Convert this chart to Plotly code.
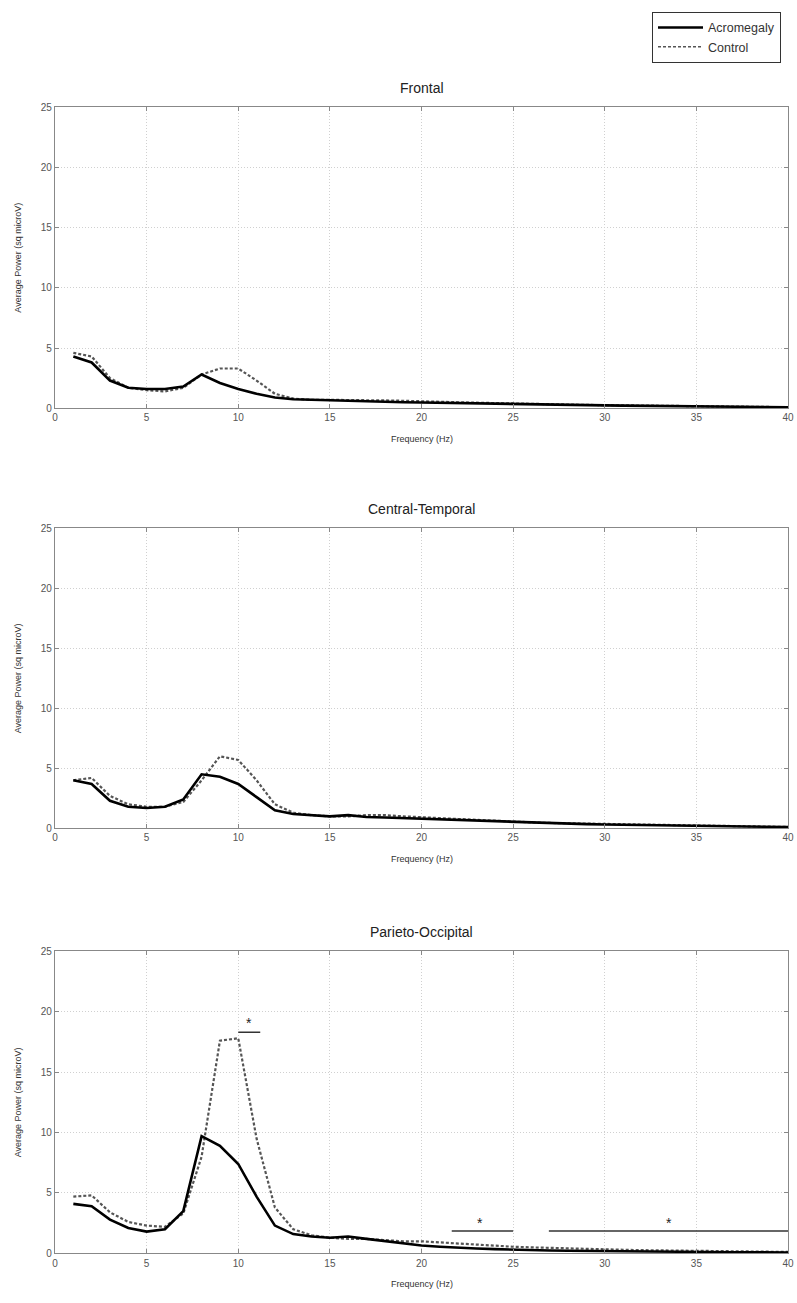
import plotly.graph_objects as go

freq = list(range(1, 41))

frontal_acro = [4.3, 3.8, 2.3, 1.7, 1.6, 1.6, 1.8, 2.8, 2.1, 1.6, 1.2, 0.9, 0.75, 0.7, 0.7, 0.65,
                0.6, 0.55, 0.5, 0.48, 0.45, 0.42, 0.4, 0.37, 0.35, 0.32, 0.3, 0.28, 0.26, 0.24,
                0.22, 0.2, 0.18, 0.16, 0.15, 0.13, 0.12, 0.1, 0.09, 0.08]
frontal_ctrl = [4.6, 4.3, 2.5, 1.7, 1.5, 1.4, 1.7, 2.8, 3.3, 3.3, 2.3, 1.2, 0.8, 0.7, 0.7, 0.7,
                0.68, 0.65, 0.62, 0.6, 0.55, 0.5, 0.46, 0.42, 0.38, 0.35, 0.32, 0.3, 0.28, 0.26,
                0.24, 0.22, 0.2, 0.18, 0.16, 0.14, 0.12, 0.11, 0.1, 0.09]

central_acro = [4.0, 3.7, 2.3, 1.8, 1.7, 1.8, 2.4, 4.5, 4.3, 3.7, 2.6, 1.5, 1.2, 1.1, 1.0, 1.1,
                0.95, 0.9, 0.85, 0.8, 0.72, 0.65, 0.6, 0.55, 0.5, 0.45, 0.42, 0.38, 0.35, 0.32,
                0.3, 0.28, 0.25, 0.23, 0.2, 0.18, 0.16, 0.14, 0.12, 0.1]
central_ctrl = [4.0, 4.2, 2.7, 2.0, 1.8, 1.8, 2.2, 4.0, 6.0, 5.7, 4.0, 2.0, 1.3, 1.1, 1.0, 1.0,
                1.1, 1.1, 1.0, 0.95, 0.85, 0.78, 0.7, 0.62, 0.55, 0.5, 0.45, 0.42, 0.38, 0.35,
                0.32, 0.3, 0.27, 0.24, 0.22, 0.2, 0.18, 0.16, 0.14, 0.12]

parieto_acro = [4.1, 3.9, 2.8, 2.1, 1.8, 2.0, 3.5, 9.7, 8.9, 7.4, 4.7, 2.3, 1.6, 1.4, 1.3, 1.4,
                1.2, 1.0, 0.8, 0.65, 0.55, 0.45, 0.4, 0.35, 0.3, 0.27, 0.24, 0.22, 0.2, 0.18,
                0.16, 0.15, 0.14, 0.13, 0.12, 0.11, 0.1, 0.09, 0.08, 0.07]
parieto_ctrl = [4.7, 4.8, 3.4, 2.6, 2.3, 2.2, 3.3, 8.0, 17.6, 17.8, 9.5, 3.8, 2.0, 1.5, 1.3, 1.2,
                1.2, 1.1, 1.0, 1.0, 0.9, 0.8, 0.7, 0.6, 0.55, 0.5, 0.45, 0.4, 0.36, 0.33,
                0.3, 0.27, 0.25, 0.23, 0.21, 0.19, 0.17, 0.15, 0.13, 0.12]

titles = ["Frontal", "Central-Temporal", "Parieto-Occipital"]
series_names = ["Acromegaly", "Control"]
x_ticks = [0, 5, 10, 15, 20, 25, 30, 35, 40]
y_ticks = [0, 5, 10, 15, 20, 25]

# significance bars (bottom panel): x0, x1, y, star x, star y
sig_x0 = [10.0, 21.65, 26.95]
sig_x1 = [11.2, 25.0, 40.0]
sig_y = [18.3, 1.85, 1.85]
star_x = [10.6, 23.2, 33.5]
star_y = [19.1, 2.5, 2.5]

H = 1303
panels_px = [(102, 406), (527, 830), (954, 1259)]
domains = [[1 - b / H, 1 - t / H] for t, b in panels_px]

data = [(frontal_acro, frontal_ctrl), (central_acro, central_ctrl), (parieto_acro, parieto_ctrl)]

FONT = "Liberation Sans, Arial, sans-serif"
fig = go.Figure()

for i, (acro, ctrl) in enumerate(data):
    xa = "x" if i == 0 else f"x{i+1}"
    ya = "y" if i == 0 else f"y{i+1}"
    fig.add_trace(go.Scatter(x=freq, y=ctrl, mode="lines", name=series_names[1],
                             line=dict(color="#555555", width=2.2, dash="3px,2px"),
                             xaxis=xa, yaxis=ya, showlegend=False))
    fig.add_trace(go.Scatter(x=freq, y=acro, mode="lines", name=series_names[0],
                             line=dict(color="black", width=2.6),
                             xaxis=xa, yaxis=ya, showlegend=(i == 0), legendrank=1))
    if i == 0:
        fig.add_trace(go.Scatter(x=[None], y=[None], mode="lines", name=series_names[1],
                                 line=dict(color="#555555", width=1.6, dash="3px,2px"),
                                 xaxis=xa, yaxis=ya, showlegend=True, legendrank=2))

axis_common = dict(showline=True, linecolor="#888888", linewidth=1.2, mirror="ticks",
                   ticks="inside", ticklen=4, tickcolor="#888888",
                   showgrid=True, gridcolor="#d0d0d0", griddash="1px,2px", gridwidth=1,
                   zeroline=False, tickfont=dict(family=FONT, size=10, color="#555555"))

layout = dict(width=797, height=1303, paper_bgcolor="white", plot_bgcolor="white",
              margin=dict(l=55, r=9, t=0, b=0),
              font=dict(family=FONT, color="#222222"))

for i in range(3):
    xk = "xaxis" if i == 0 else f"xaxis{i+1}"
    yk = "yaxis" if i == 0 else f"yaxis{i+1}"
    ya = "y" if i == 0 else f"y{i+1}"
    xa = "x" if i == 0 else f"x{i+1}"
    layout[xk] = dict(axis_common, range=[0, 40], tickvals=x_ticks, anchor=ya, domain=[0, 1])
    layout[yk] = dict(axis_common, range=[0, 25], tickvals=y_ticks, anchor=xa, domain=domains[i])

annotations = []
for i, (t, b) in enumerate(panels_px):
    annotations.append(dict(text=titles[i], x=0.5, xref="paper", y=1 - (t - 19) / H, yref="paper",
                            showarrow=False, font=dict(family=FONT, size=14, color="#222222"),
                            xanchor="center", yanchor="middle"))
    annotations.append(dict(text="Frequency (Hz)", x=0.5, xref="paper", y=1 - (b + 31) / H, yref="paper",
                            showarrow=False, font=dict(family=FONT, size=9, color="#333333"),
                            xanchor="center", yanchor="middle"))
    annotations.append(dict(text="Average Power (sq microV)", x=(18 - 55) / 733, xref="paper",
                            y=1 - ((t + b) / 2) / H, yref="paper", textangle=-90,
                            showarrow=False, font=dict(family=FONT, size=9, color="#333333"),
                            xanchor="center", yanchor="middle"))

shapes = []
for k in range(3):
    shapes.append(dict(type="line", xref="x3", yref="y3", x0=sig_x0[k], x1=sig_x1[k],
                       y0=sig_y[k], y1=sig_y[k], line=dict(color="#333333", width=1.5)))
    annotations.append(dict(text="*", x=star_x[k], y=star_y[k], xref="x3", yref="y3",
                            showarrow=False, font=dict(family=FONT, size=14, color="#222222"),
                            xanchor="center", yanchor="middle"))

layout["annotations"] = annotations
layout["shapes"] = shapes
layout["legend"] = dict(x=(652 - 55) / 733, xanchor="left", y=1 - 6 / H, yanchor="top",
                        bordercolor="#333333", borderwidth=1, bgcolor="white",
                        font=dict(family=FONT, size=12.5, color="#333333"),
                        tracegroupgap=0, itemwidth=45)

fig.update_layout(**layout)
fig.write_html("out.html")
